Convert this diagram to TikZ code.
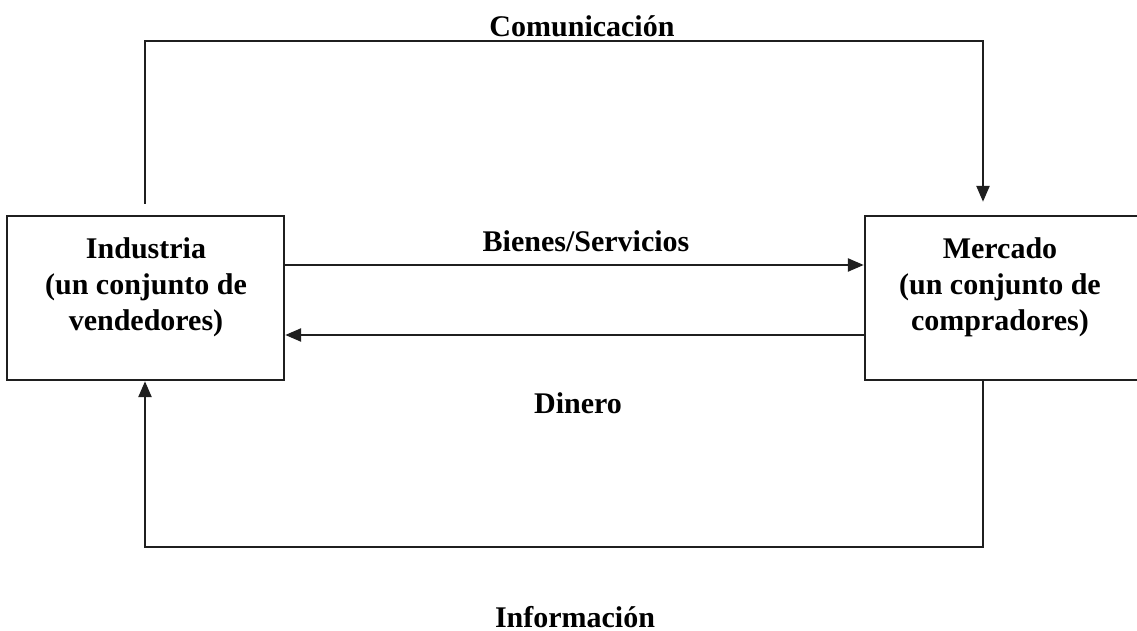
\documentclass[tikz,border=0pt]{standalone}
\usepackage{fontspec}
\setmainfont{Liberation Serif}
\usetikzlibrary{arrows.meta}
\tikzset{
  box/.style={draw=black!88, line width=1.2pt, rectangle, inner sep=0pt},
  boxtxt/.style={align=center, font=\fontsize{15}{18}\selectfont\bfseries, inner sep=0pt},
  lbl/.style={anchor=base, font=\fontsize{15}{18}\selectfont\bfseries, inner sep=0pt},
  conn/.style={draw=black!88, line width=1.2pt},
  arr/.style={conn, -{Triangle[length=8pt,width=6.5pt]}}
}
\begin{document}
\begin{tikzpicture}[x=0.5pt,y=-0.5pt]
\useasboundingbox (0,0) rectangle (1137,631);
% boxes
\node[box, minimum width=277*0.5pt, minimum height=164*0.5pt] (ind) at (145.5,298) {};
\node[box, minimum width=276*0.5pt, minimum height=164*0.5pt] (mer) at (1003,298) {};
\node[boxtxt] (indt) at (146,287) {Industria\\(un conjunto de\\vendedores)};
\node[boxtxt] (mert) at (1000,287) {Mercado\\(un conjunto de\\compradores)};
% helper coordinates
\coordinate (topL) at (145,41);
\coordinate (topR) at (983,41);
\coordinate (botL) at (145,547);
\coordinate (botR) at (983,547);
\coordinate (yb) at (0,265);
\coordinate (yd) at (0,335);
% connectors
\draw[arr, shorten <=5.5pt, shorten >=6.5pt] (topL |- ind.north) -- (topL) -- (topR) -- (topR |- mer.north);
\draw[arr] (botR |- mer.south) -- (botR) -- (botL) -- (botL |- ind.south);
\draw[arr] (ind.east |- yb) -- (mer.west |- yb);
\draw[arr] (mer.west |- yd) -- (ind.east |- yd);
% labels
\node[lbl] (com) at (582,37) {Comunicación};
\node[lbl] (bie) at (586,252) {Bienes/Servicios};
\node[lbl] (din) at (578,413) {Dinero};
\node[lbl] (inf) at (575,627) {Información};
\end{tikzpicture}
\end{document}
